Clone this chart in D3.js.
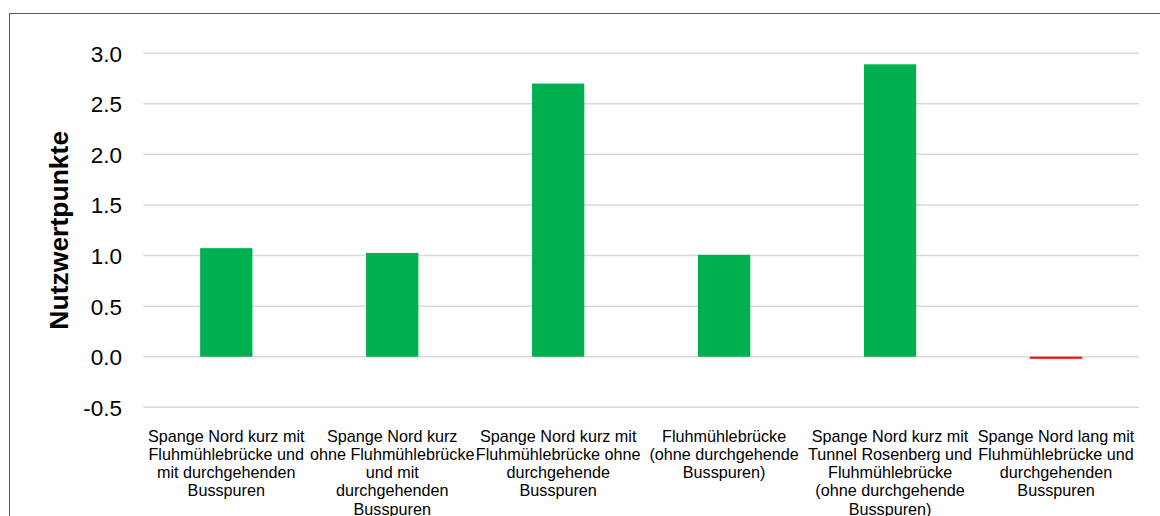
<!DOCTYPE html>
<html><head><meta charset="utf-8">
<script src="https://cdn.jsdelivr.net/npm/d3@7"></script>
<style>html,body{margin:0;padding:0;background:#fff;}svg{display:block;}</style>
</head><body>
<svg id="chart" width="1160" height="516"></svg>
<script>
const categories = [
  "Spange Nord kurz mit\nFluhmühlebrücke und\nmit durchgehenden\nBusspuren",
  "Spange Nord kurz\nohne Fluhmühlebrücke\nund mit\ndurchgehenden\nBusspuren",
  "Spange Nord kurz mit\nFluhmühlebrücke ohne\ndurchgehende\nBusspuren",
  "Fluhmühlebrücke\n(ohne durchgehende\nBusspuren)",
  "Spange Nord kurz mit\nTunnel Rosenberg und\nFluhmühlebrücke\n(ohne durchgehende\nBusspuren)",
  "Spange Nord lang mit\nFluhmühlebrücke und\ndurchgehenden\nBusspuren"
];
const values = [1.073, 1.026, 2.70, 1.007, 2.89, -0.02];
const yTicks = [-0.5, 0, 0.5, 1.0, 1.5, 2.0, 2.5, 3.0];
const yTitle = "Nutzwertpunkte";

(function () {
const svg = d3.select("#chart");
const pLeft = 143.3, pRight = 1139, pTop = 53.2, pBottom = 407.3;

// outer border
svg.append("rect").attr("x", 9.5).attr("y", 13.5).attr("width", 1160).attr("height", 520)
  .attr("fill", "none").attr("stroke", "#595959").attr("stroke-width", 1);

const x = d3.scaleBand().domain(d3.range(categories.length)).range([pLeft, pRight]).paddingInner(0.685).paddingOuter(0.3425);
const y = d3.scaleLinear().domain([-0.5, 3.0]).range([pBottom, pTop]);

// gridlines
svg.append("g").selectAll("line").data(yTicks).join("line")
  .attr("x1", pLeft).attr("x2", pRight)
  .attr("y1", d => y(d)).attr("y2", d => y(d))
  .attr("stroke", "#d9d9d9").attr("stroke-width", 1.5);

// y axis labels
const yAxis = d3.axisLeft(y).tickValues(yTicks).tickFormat(d => d.toFixed(1)).tickSize(0).tickPadding(0);
const gy = svg.append("g").attr("transform", `translate(122,0)`).call(yAxis);
gy.select(".domain").remove();
gy.selectAll("text").attr("font-family", "Liberation Sans, Arial, sans-serif").attr("font-size", 22.5).attr("fill", "#000")
  .attr("dy", "0.35em");

// bars
svg.append("g").selectAll("rect").data(values).join("rect")
  .attr("x", (d, i) => x(i))
  .attr("width", x.bandwidth())
  .attr("y", d => Math.min(y(d), y(0)))
  .attr("height", d => Math.abs(y(d) - y(0)))
  .attr("fill", d => d < 0 ? "#ff0000" : "#00b050");

// x labels
const lab = svg.append("g").selectAll("text").data(categories).join("text")
  .attr("font-family", "Liberation Sans, Arial, sans-serif").attr("font-size", 16.2).attr("fill", "#000")
  .attr("text-anchor", "middle")
  .attr("transform", (d, i) => `translate(${x(i) + x.bandwidth() / 2},441.5)`);
lab.each(function(d) {
  const t = d3.select(this);
  d.split("\n").forEach((line, k) => {
    t.append("tspan").attr("x", 0).attr("y", k * 18.3).text(line);
  });
});

// y title
svg.append("text").attr("transform", `translate(68,${(pTop + pBottom) / 2}) rotate(-90)`)
  .attr("text-anchor", "middle").attr("font-family", "Liberation Sans, Arial, sans-serif")
  .attr("font-size", 26.5).attr("font-weight", "bold").attr("fill", "#000").text(yTitle);
})();
</script>
</body></html>
